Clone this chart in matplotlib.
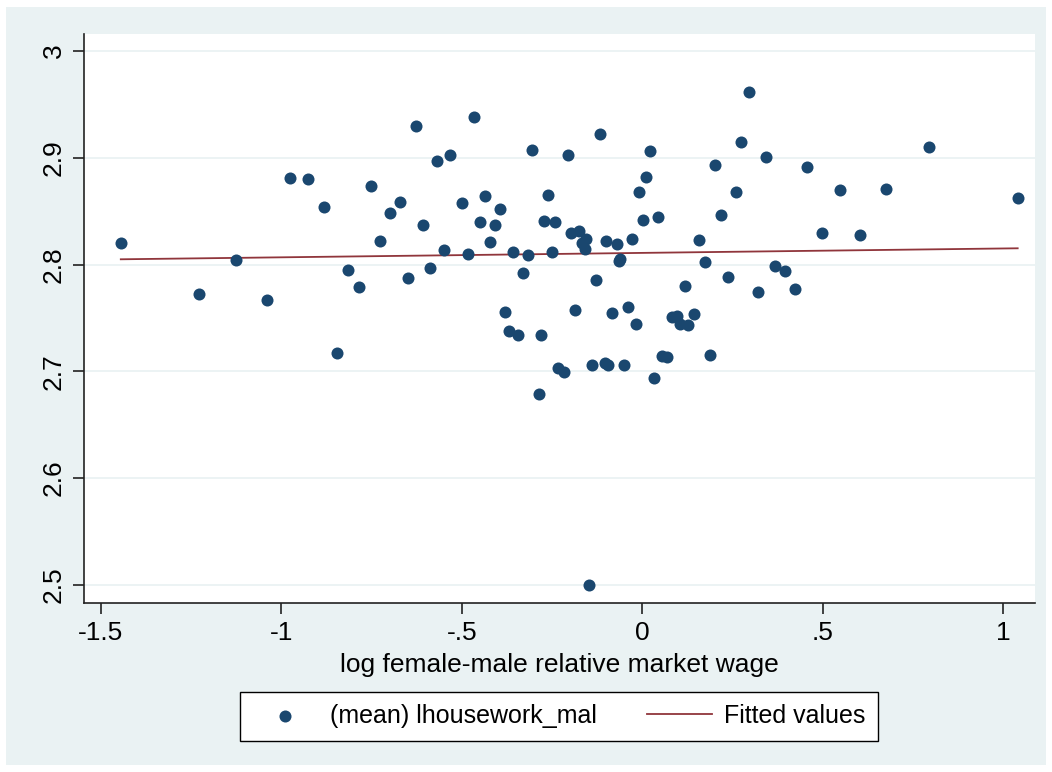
import numpy as np
import matplotlib
matplotlib.use("Agg")
import matplotlib.pyplot as plt
from matplotlib.patches import Rectangle

plt.rcParams['font.family'] = ['Liberation Sans', 'DejaVu Sans']

# log female-male relative market wage
wage = [-1.445, -1.229, -1.127, -1.041, -0.977, -0.925, -0.883, -0.847, -0.814, -0.784,
        -0.751, -0.726, -0.698, -0.670, -0.648, -0.626, -0.607, -0.587, -0.568, -0.549,
        -0.532, -0.499, -0.482, -0.466, -0.449, -0.435, -0.421, -0.408, -0.394, -0.380,
        -0.369, -0.358, -0.344, -0.330, -0.316, -0.305, -0.286, -0.280, -0.272, -0.261,
        -0.250, -0.242, -0.233, -0.217, -0.206, -0.197, -0.186, -0.175, -0.167, -0.159,
        -0.156, -0.148, -0.139, -0.128, -0.117, -0.103, -0.101, -0.095, -0.084, -0.070,
        -0.065, -0.062, -0.051, -0.040, -0.029, -0.018, -0.009, 0.002, 0.010, 0.021,
        0.032, 0.043, 0.054, 0.068, 0.082, 0.096, 0.104, 0.118, 0.126, 0.143,
        0.157, 0.173, 0.187, 0.201, 0.220, 0.239, 0.259, 0.275, 0.295, 0.320,
        0.342, 0.367, 0.397, 0.425, 0.458, 0.499, 0.549, 0.605, 0.676, 0.795, 1.041]
# (mean) lhousework_mal
housework = [2.820, 2.772, 2.804, 2.767, 2.881, 2.880, 2.854, 2.717, 2.795, 2.779,
             2.874, 2.822, 2.848, 2.859, 2.787, 2.930, 2.837, 2.797, 2.897, 2.814,
             2.903, 2.858, 2.810, 2.938, 2.840, 2.864, 2.821, 2.837, 2.852, 2.756,
             2.738, 2.812, 2.734, 2.792, 2.809, 2.907, 2.679, 2.734, 2.841, 2.865,
             2.812, 2.840, 2.703, 2.699, 2.903, 2.830, 2.757, 2.831, 2.820, 2.815,
             2.824, 2.500, 2.706, 2.786, 2.922, 2.708, 2.822, 2.706, 2.755, 2.819,
             2.803, 2.805, 2.706, 2.760, 2.824, 2.744, 2.868, 2.842, 2.882, 2.906,
             2.694, 2.845, 2.714, 2.713, 2.751, 2.752, 2.744, 2.780, 2.743, 2.754,
             2.823, 2.802, 2.715, 2.893, 2.846, 2.788, 2.868, 2.915, 2.962, 2.774,
             2.901, 2.799, 2.794, 2.777, 2.891, 2.830, 2.870, 2.828, 2.871, 2.910, 2.862]

x = np.array(wage)
y = np.array(housework)
b, a = np.polyfit(x, y, 1)
xs = np.array([x.min(), x.max()])

fig = plt.figure(figsize=(10.52, 7.72), dpi=100, facecolor="white")
bg = Rectangle((6/1052, 7/772), 1040/1052, 758/772, transform=fig.transFigure,
               facecolor="#EAF2F3", edgecolor="none", zorder=-10)
fig.patches.append(bg)
ax = fig.add_axes([84/1052, 1 - 603/772, 951/1052, 569/772])
ax.set_facecolor("white")

ax.scatter(x, y, s=75, color="#1A476F", zorder=3, label="(mean) lhousework_mal", linewidths=0)
ax.plot(xs, a + b * xs, color="#90353B", lw=1.3, zorder=2, label="Fitted values")

ax.set_xlim(-1.547, 1.089)
ax.set_ylim(2.483, 3.016)
ax.set_xticks([-1.5, -1, -0.5, 0, 0.5, 1])
ax.set_xticklabels(["-1.5", "-1", "-.5", "0", ".5", "1"])
ax.set_yticks([2.5, 2.6, 2.7, 2.8, 2.9, 3.0])
ax.set_yticklabels(["2.5", "2.6", "2.7", "2.8", "2.9", "3"], rotation=90, va="center")
ax.grid(axis="y", color="#EAF2F3", lw=1.3)
ax.set_axisbelow(True)
for s in ["top", "right"]:
    ax.spines[s].set_visible(False)
for s in ["left", "bottom"]:
    ax.spines[s].set_linewidth(1.2)
    ax.spines[s].set_color("#222222")
ax.tick_params(labelsize=19, length=8, width=1.2, color="#222222", pad=5)
ax.set_xlabel("log female-male relative market wage", fontsize=19, labelpad=6)

leg = fig.legend(loc="center", bbox_to_anchor=(559/1052, 1 - 716/772), ncol=2, fontsize=18,
                 frameon=True, fancybox=False, edgecolor="black", facecolor="white",
                 framealpha=1, handlelength=2.6, handletextpad=0.5, columnspacing=2.0,
                 borderpad=0.5, scatterpoints=1)
leg.get_frame().set_linewidth(1.0)

fig.savefig("out.png", dpi=100, facecolor=fig.get_facecolor())
